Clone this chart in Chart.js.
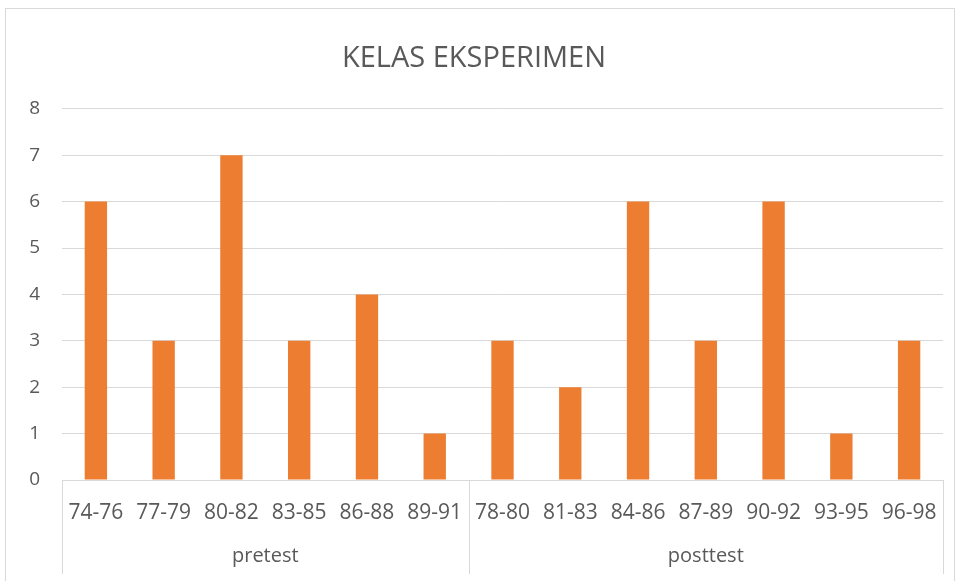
<!DOCTYPE html>
<html>
<head>
<meta charset="utf-8">
<script src="https://cdn.jsdelivr.net/npm/chart.js@4.4.0/dist/chart.umd.min.js"></script>
<style>
  html, body { margin: 0; padding: 0; background: #fff; }
  #wrap { position: relative; width: 960px; height: 581px; }
</style>
</head>
<body>
<div id="wrap"><canvas id="myChart" width="960" height="581"></canvas></div>
<script>
// カテゴリと値
var pretestLabels = ['74-76', '77-79', '80-82', '83-85', '86-88', '89-91'];
var pretestValues = [6, 3, 7, 3, 4, 1];
var posttestLabels = ['78-80', '81-83', '84-86', '87-89', '90-92', '93-95', '96-98'];
var posttestValues = [3, 2, 6, 3, 6, 1, 3];
var groupNames = ['pretest', 'posttest'];
var yTicks = [0, 1, 2, 3, 4, 5, 6, 7, 8];

var labels = pretestLabels.concat(posttestLabels);
var values = pretestValues.concat(posttestValues);

var textColor = '#595959';
var lineColor = '#d9d9d9';

// グループ名と区切り線を描く
var groupPlugin = {
  id: 'groupRow',
  beforeDraw: function(chart) {
    var c = chart.ctx;
    c.save();
    c.strokeStyle = lineColor;
    c.lineWidth = 1;
    c.strokeRect(5.5, 8.5, 949, 580);
    c.restore();
  },
  afterDraw: function(chart) {
    var c = chart.ctx;
    var x = chart.scales.x;
    var bottom = chart.chartArea.bottom;
    var sizes = [pretestLabels.length, posttestLabels.length];
    var start = 0;
    c.save();
    c.strokeStyle = lineColor;
    c.lineWidth = 1;
    c.fillStyle = textColor;
    c.font = '20px "Open Sans"';
    c.textAlign = 'center';
    c.textBaseline = 'middle';
    var edges = [start - 0.5];
    for (var g = 0; g < sizes.length; g++) {
      var from = x.getPixelForValue(start - 0.5);
      var to = x.getPixelForValue(start + sizes[g] - 0.5);
      c.fillText(groupNames[g], (from + to) / 2, 556);
      start += sizes[g];
      edges.push(start - 0.5);
    }
    edges.forEach(function(e) {
      var px = Math.round(x.getPixelForValue(e)) + 0.5;
      c.beginPath();
      c.moveTo(px, bottom);
      c.lineTo(px, 574);
      c.stroke();
    });
    c.restore();
  }
};

var ctx = document.getElementById('myChart').getContext('2d');
var chart = new Chart(ctx, {
  type: 'bar',
  data: {
    labels: labels,
    datasets: [{
      label: 'KELAS EKSPERIMEN',
      backgroundColor: '#ED7D31',
      borderWidth: 0,
      data: values,
      barPercentage: 0.33,
      categoryPercentage: 1
    }]
  },
  options: {
    responsive: false,
    animation: false,
    layout: { padding: { top: 10, left: 5, right: 17, bottom: 0 } },
    plugins: {
      legend: { display: false },
      tooltip: { enabled: false },
      title: {
        display: true,
        text: 'KELAS EKSPERIMEN',
        color: textColor,
        font: { family: 'Open Sans', size: 29, weight: 'normal' },
        padding: { top: 31, bottom: 33 }
      }
    },
    scales: {
      x: {
        grid: { display: false, drawTicks: false },
        border: { display: true, color: lineColor },
        ticks: {
          color: textColor,
          font: { family: 'Open Sans', size: 21 },
          padding: 20,
          maxRotation: 0,
          autoSkip: false
        },
        afterFit: function(s) { s.height = 101; }
      },
      y: {
        min: 0,
        max: 8,
        afterBuildTicks: function(s) {
          s.ticks = yTicks.map(function(v) { return { value: v }; });
        },
        grid: { color: lineColor, drawTicks: false },
        border: { display: false },
        ticks: {
          color: textColor,
          font: { family: 'Open Sans', size: 19 },
          padding: 22
        },
        afterFit: function(s) { s.width = 57; }
      }
    }
  },
  plugins: [groupPlugin]
});
</script>
</body>
</html>
